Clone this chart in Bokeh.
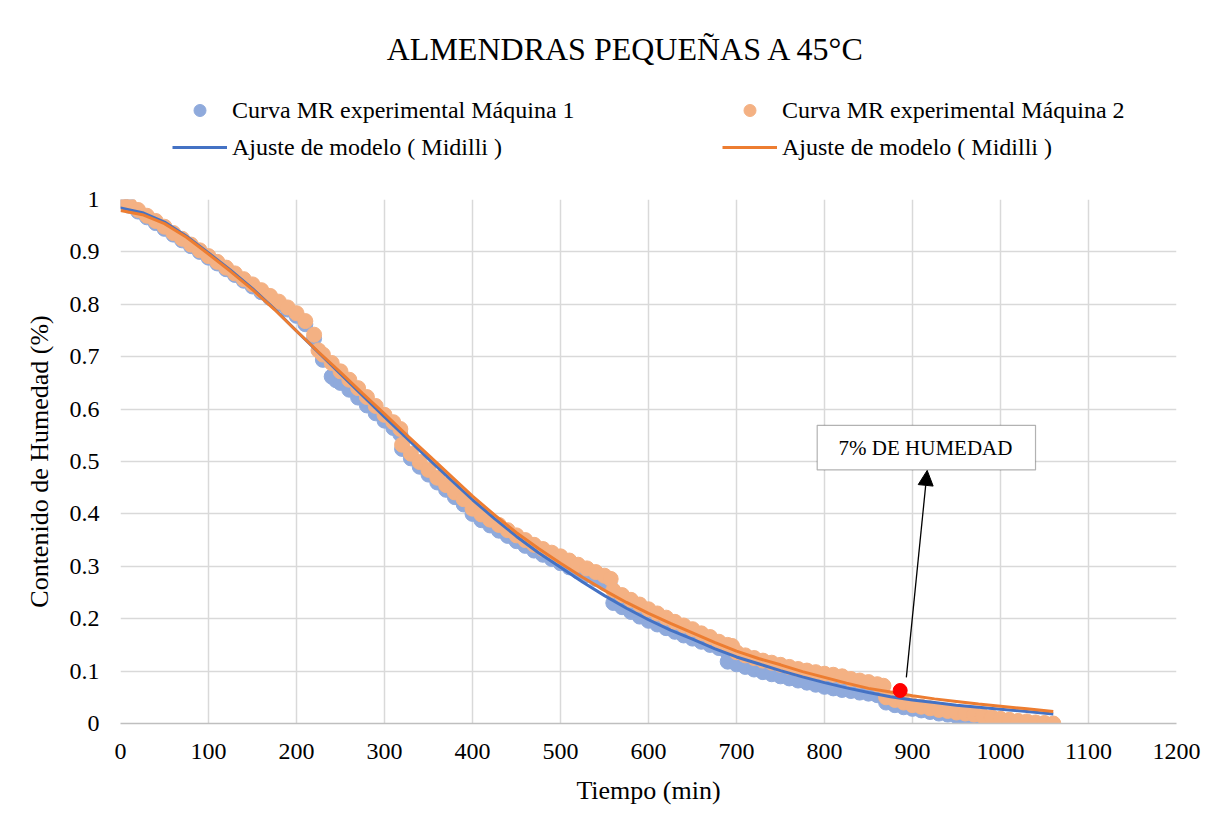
from bokeh.plotting import figure
from bokeh.layouts import column
from bokeh.models import (Legend, LegendItem, FixedTicker, CustomJSTickFormatter,
                          BoxAnnotation, Label, Arrow, NormalHead)
from bokeh.embed import file_html
from bokeh.resources import INLINE

# ---------------- data ----------------
titulo = "ALMENDRAS PEQUEÑAS A 45°C"

# Experimental curve, Máquina 1 (time in min, MR)
t_m1 = [0, 10, 20, 30, 40, 50, 60, 70, 80, 90, 100, 110, 120, 130, 140, 150, 160, 170, 180, 190,
        200, 210, 220, 230, 240, 245, 250, 260, 270, 280, 290, 300, 310, 318, 320, 330, 340, 350,
        360, 370, 380, 390, 400, 410, 420, 430, 440, 450, 460, 470, 480, 490, 500, 510, 520, 530,
        540, 550, 556, 560, 570, 580, 590, 600, 610, 620, 630, 640, 650, 660, 670, 680, 688, 690,
        700, 710, 720, 730, 740, 750, 760, 770, 780, 790, 800, 810, 820, 830, 840, 850, 860, 866,
        870, 880, 890, 900, 910, 920, 930, 940, 950, 960, 970, 980, 990, 1000, 1010, 1020, 1030,
        1040, 1050]
mr_m1 = [0.998, 0.988, 0.977, 0.966, 0.955, 0.944, 0.933, 0.922, 0.911, 0.900, 0.889, 0.878, 0.867,
         0.856, 0.845, 0.834, 0.823, 0.812, 0.801, 0.790, 0.778, 0.762, 0.735, 0.694, 0.662, 0.655,
         0.650, 0.637, 0.622, 0.607, 0.592, 0.578, 0.564, 0.552, 0.524, 0.506, 0.490, 0.475, 0.460,
         0.446, 0.432, 0.418, 0.400, 0.388, 0.378, 0.368, 0.358, 0.348, 0.339, 0.330, 0.322, 0.314,
         0.306, 0.298, 0.290, 0.283, 0.276, 0.268, 0.264, 0.230, 0.222, 0.213, 0.204, 0.196, 0.189,
         0.182, 0.175, 0.168, 0.162, 0.156, 0.150, 0.144, 0.139, 0.118, 0.113, 0.108, 0.103, 0.098,
         0.094, 0.090, 0.086, 0.082, 0.078, 0.074, 0.070, 0.067, 0.064, 0.062, 0.059, 0.057, 0.054,
         0.052, 0.040, 0.035, 0.031, 0.028, 0.025, 0.022, 0.019, 0.017, 0.014, 0.012, 0.010, 0.008,
         0.005, 0.003, 0.002, 0.001, 0.000, 0.000, 0.000]

# Experimental curve, Máquina 2
t_m2 = [0, 10, 20, 30, 40, 50, 60, 70, 80, 90, 100, 110, 120, 130, 140, 150, 160, 170, 180, 190,
        200, 210, 220, 225, 230, 240, 250, 260, 270, 280, 290, 300, 310, 318, 320, 330, 340, 350,
        360, 370, 380, 390, 400, 410, 420, 430, 440, 450, 460, 470, 480, 490, 500, 510, 520, 530,
        540, 550, 557, 560, 570, 580, 590, 600, 610, 620, 630, 640, 650, 660, 670, 680, 690, 695,
        700, 710, 720, 730, 740, 750, 760, 770, 780, 790, 800, 810, 820, 830, 840, 850, 860, 867,
        870, 880, 890, 900, 910, 920, 930, 940, 950, 960, 970, 980, 990, 1000, 1010, 1020, 1030,
        1040, 1050, 1060]
mr_m2 = [1.000, 0.990, 0.980, 0.969, 0.959, 0.948, 0.936, 0.925, 0.914, 0.903, 0.892, 0.881, 0.870,
         0.859, 0.848, 0.838, 0.827, 0.816, 0.805, 0.794, 0.783, 0.768, 0.742, 0.712, 0.704, 0.688,
         0.672, 0.656, 0.640, 0.623, 0.606, 0.589, 0.575, 0.562, 0.532, 0.515, 0.499, 0.484, 0.469,
         0.455, 0.441, 0.428, 0.410, 0.399, 0.389, 0.379, 0.369, 0.359, 0.350, 0.341, 0.333, 0.326,
         0.319, 0.311, 0.303, 0.296, 0.289, 0.282, 0.276, 0.254, 0.245, 0.236, 0.227, 0.218, 0.210,
         0.202, 0.194, 0.187, 0.180, 0.172, 0.165, 0.156, 0.150, 0.148, 0.136, 0.130, 0.125, 0.120,
         0.116, 0.112, 0.108, 0.104, 0.101, 0.098, 0.095, 0.093, 0.090, 0.085, 0.082, 0.079, 0.075,
         0.072, 0.050, 0.045, 0.040, 0.035, 0.032, 0.029, 0.026, 0.024, 0.021, 0.019, 0.017, 0.014,
         0.012, 0.009, 0.007, 0.005, 0.004, 0.002, 0.001, 0.000]

# Midilli model fits
t_fit = [0, 25, 50, 75, 100, 125, 150, 175, 200, 225, 250, 275, 300, 325, 350, 375, 400, 425, 450,
         475, 500, 525, 550, 575, 600, 625, 650, 675, 700, 725, 750, 775, 800, 825, 850, 875, 900,
         925, 950, 975, 1000, 1030, 1060]
fit_m1 = [0.984, 0.975, 0.957, 0.930, 0.898, 0.865, 0.830, 0.791, 0.749, 0.708, 0.667, 0.626, 0.585,
          0.545, 0.505, 0.466, 0.427, 0.391, 0.357, 0.326, 0.298, 0.270, 0.244, 0.220, 0.198, 0.178,
          0.161, 0.143, 0.127, 0.114, 0.101, 0.089, 0.078, 0.068, 0.059, 0.051, 0.045, 0.040, 0.035,
          0.031, 0.027, 0.023, 0.018]
fit_m2 = [0.979, 0.971, 0.954, 0.928, 0.896, 0.863, 0.828, 0.790, 0.749, 0.709, 0.670, 0.630, 0.591,
          0.551, 0.512, 0.473, 0.434, 0.398, 0.364, 0.334, 0.306, 0.279, 0.254, 0.231, 0.210, 0.191,
          0.173, 0.155, 0.138, 0.124, 0.112, 0.099, 0.088, 0.077, 0.067, 0.060, 0.053, 0.047, 0.042,
          0.037, 0.033, 0.028, 0.023]

# highlighted point (7 % moisture)
punto_t = [886]
punto_mr = [0.063]

x_ticks = [0, 100, 200, 300, 400, 500, 600, 700, 800, 900, 1000, 1100, 1200]
y_ticks = [0, 0.1, 0.2, 0.3, 0.4, 0.5, 0.6, 0.7, 0.8, 0.9, 1.0]

lbl_m1 = "Curva MR experimental Máquina 1"
lbl_m2 = "Curva MR experimental Máquina 2"
lbl_fit = "Ajuste de modelo ( Midilli )"
nota = "7% DE HUMEDAD"

# ---------------- style ----------------
FONT = "Liberation Serif"
C_M1 = "#8FAADC"
C_M2 = "#F4B183"
C_F1 = "#4472C4"
C_F2 = "#ED7D31"
GRID = "#D9D9D9"
W = 1212
TOP_H = 180

# ---------- header figure (title + legend); its frame aligns with the chart frame ----------
top = figure(width=W, height=TOP_H, output_backend="svg", toolbar_location=None,
             x_axis_type=None, y_axis_type=None, x_range=(-20, -10), y_range=(0, 1),
             min_border_left=0, min_border_right=0, min_border_top=0, min_border_bottom=0,
             background_fill_color="white", border_fill_color="white")
top.outline_line_color = None
top.grid.visible = False

top.add_layout(Label(x=506, y=TOP_H - 48, x_units="screen", y_units="screen", text=titulo,
                     text_align="center", text_baseline="middle", text_font=FONT,
                     text_font_size="32px", text_color="black"))

# legend keys (same styles as the chart series; the data lie outside this header's x-range)
k_m1 = top.scatter(t_m1, mr_m1, size=15, fill_color=C_M1, line_color=C_M1)
k_m2 = top.scatter(t_m2, mr_m2, size=15, fill_color=C_M2, line_color=C_M2)
k_f1 = top.line(t_fit, fit_m1, line_color=C_F1, line_width=3)
k_f2 = top.line(t_fit, fit_m2, line_color=C_F2, line_width=3)

def make_legend(items, loc):
    return Legend(items=items, location=loc, orientation="vertical",
                  glyph_width=55, glyph_height=30, label_height=30, spacing=7,
                  label_standoff=5, padding=0, margin=0,
                  label_text_font=FONT, label_text_font_size="24px", label_text_color="black",
                  border_line_color=None, background_fill_alpha=0)

top.add_layout(make_legend([LegendItem(label=lbl_m1, renderers=[k_m1]),
                            LegendItem(label=lbl_fit, renderers=[k_f1])], (52, 18)))
top.add_layout(make_legend([LegendItem(label=lbl_m2, renderers=[k_m2]),
                            LegendItem(label=lbl_fit, renderers=[k_f2])], (602, 18)))

# ---------- main chart ----------
p = figure(width=W, height=830 - TOP_H, output_backend="svg", toolbar_location=None,
           x_range=(0, 1200), y_range=(0, 1),
           min_border_left=120, min_border_right=36, min_border_top=199 - TOP_H,
           min_border_bottom=107,
           background_fill_color="white", border_fill_color="white")
p.outline_line_color = None

r_m1 = p.scatter(t_m1, mr_m1, size=15, fill_color=C_M1, line_color=C_M1)
r_m2 = p.scatter(t_m2, mr_m2, size=15, fill_color=C_M2, line_color=C_M2)
r_f1 = p.line(t_fit, fit_m1, line_color=C_F1, line_width=3)
r_f2 = p.line(t_fit, fit_m2, line_color=C_F2, line_width=3)
r_pt = p.scatter(punto_t, punto_mr, size=14, fill_color="#FF0000", line_color="#FF0000")

p.xaxis.ticker = FixedTicker(ticks=x_ticks)
p.yaxis.ticker = FixedTicker(ticks=y_ticks)
p.yaxis.formatter = CustomJSTickFormatter(code="return String(Math.round(tick*10)/10);")
for ax in (p.xaxis[0], p.yaxis[0]):
    ax.major_tick_in = 0
    ax.major_tick_out = 0
    ax.minor_tick_in = 0
    ax.minor_tick_out = 0
    ax.major_label_text_font = FONT
    ax.major_label_text_font_size = "24px"
    ax.major_label_text_color = "black"
    ax.axis_label_text_font = FONT
    ax.axis_label_text_font_size = "26px"
    ax.axis_label_text_font_style = "normal"
    ax.axis_label_text_color = "black"
p.xaxis.axis_label = "Tiempo (min)"
p.yaxis.axis_label = "Contenido de Humedad (%)"
p.xaxis.axis_line_color = "#BFBFBF"
p.xaxis.axis_line_width = 1.5
p.yaxis.axis_line_color = None
p.xaxis.major_label_standoff = 20
p.yaxis.major_label_standoff = 21
p.xaxis.axis_label_standoff = 14
p.yaxis.axis_label_standoff = 13

p.xgrid.grid_line_color = GRID
p.ygrid.grid_line_color = GRID
p.xgrid.grid_line_width = 1.5
p.ygrid.grid_line_width = 1.5

# annotation box + arrow
p.add_layout(Arrow(x_start=893, y_start=0.088, x_end=916.7, y_end=0.483,
                   line_color="black", line_width=1.3,
                   end=NormalHead(size=15, fill_color="black", line_color="black")))
p.add_layout(BoxAnnotation(left=791.7, right=1039.8, bottom=0.484, top=0.569,
                           fill_color="white", fill_alpha=1.0, line_color="black", line_width=1.2))
p.add_layout(Label(x=914.8, y=0.5265, text=nota, text_align="center", text_baseline="middle",
                   text_font=FONT, text_font_size="21px", text_color="black"))

layout = column(top, p, spacing=0)
open("out.html", "w").write(file_html(layout, INLINE))
